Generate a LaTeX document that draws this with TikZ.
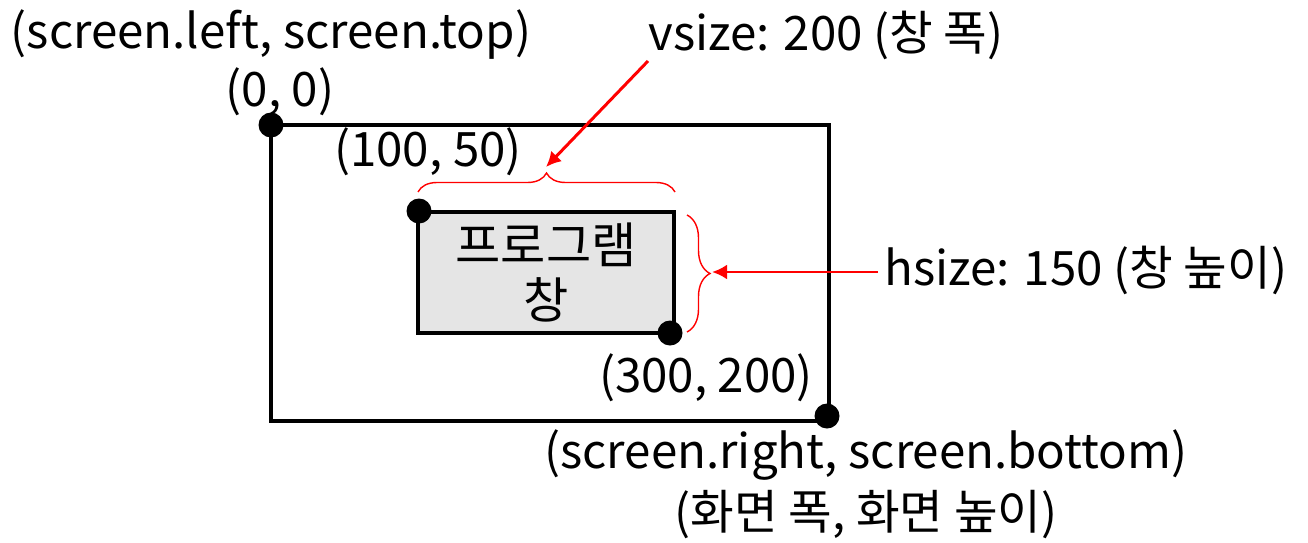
\documentclass[tikz,border=0pt]{standalone}
\usepackage{fontspec}
\setmainfont{Noto Sans CJK KR}
\usepackage{tikz}
\usetikzlibrary{decorations.pathreplacing,arrows.meta,positioning}
\tikzset{>={Latex[length=3mm,width=3mm]}}

\begin{document}
\begin{tikzpicture}[font=\fontsize{27}{31}\selectfont,
                    frame/.style={line width=1.8pt, black},
                    dot/.style={circle, fill=black, inner sep=0pt, minimum size=0.5cm},
                    mybrace/.style={red, line width=0.8pt, decorate},
                    pointer/.style={red, line width=1.7pt, ->},
                   ]

\useasboundingbox (0,0) rectangle (26.16,10.84);

% screen and program window
\draw[frame] (5.42,8.34) rectangle (16.58,2.42);
\draw[frame, fill=black!10] (8.36,6.60) rectangle (13.48,4.18);
\node[align=center, font=\fontsize{28}{31}\selectfont] (window) at (10.92,5.39) {프로그램\\창};

\node[dot] (topleft) at (5.42,8.34) {};
\node[dot] (botright) at (16.54,2.52) {};
\node[dot] (wintl) at (8.38,6.62) {};
\node[dot] (winbr) at (13.40,4.18) {};

% labels
\node (screentop) at (5.42,10.14) {(screen.left, screen.top)};
\node (origin) at (5.60,9.00) {(0, 0)};
\node (winpos) at (8.56,7.80) {(100, 50)};
\node (winend) at (14.12,3.28) {(300, 200)};
\node (screenbot) at (17.32,1.74) {(screen.right, screen.bottom)};
\node (screensize) at (17.32,0.54) {(화면 폭, 화면 높이)};
\node (vsize) at (16.52,10.14) {vsize: 200 (창 폭)};
\node[anchor=west] (hsize) at (17.56,5.44) {hsize: 150 (창 높이)};

% braces
\draw[mybrace, decoration={brace, amplitude=0.38cm}] (8.36,7.00) -- (13.50,7.00);
\draw[mybrace, decoration={brace, amplitude=0.46cm}] (13.74,6.54) -- (13.74,4.20);
\coordinate (vtip) at (10.92,7.50);
\coordinate (htip) at (14.24,5.40);

\draw[pointer] (12.96,9.62) -- (vtip);
\draw[pointer] (hsize.west |- htip) -- (htip);

\end{tikzpicture}
\end{document}
